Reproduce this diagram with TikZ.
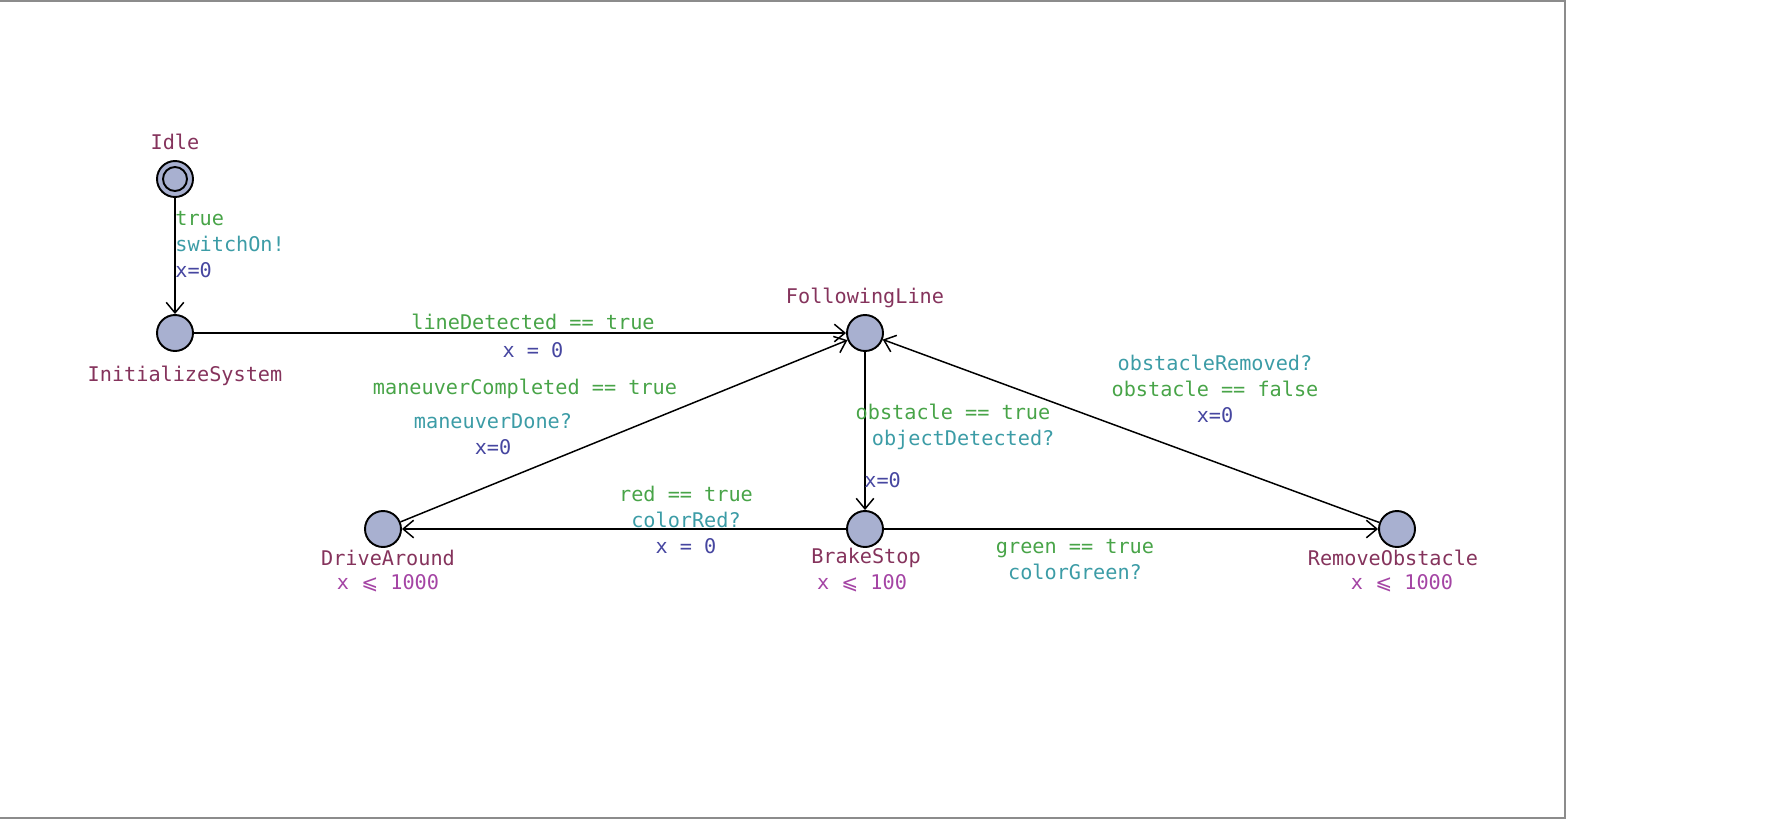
\documentclass[tikz,border=0pt]{standalone}
\usepackage{fontspec}
\setmonofont{DejaVu Sans Mono}
\newfontfamily\symfont{DejaVu Sans}
\definecolor{locname}{RGB}{133, 51, 92}
\definecolor{guard}{RGB}{72, 164, 72}
\definecolor{sync}{RGB}{60, 156, 166}
\definecolor{update}{RGB}{70, 70, 160}
\definecolor{invar}{RGB}{164, 68, 164}
\definecolor{locfill}{RGB}{168, 176, 208}
\definecolor{frame}{RGB}{140, 140, 140}
\usetikzlibrary{arrows.meta, positioning}
\tikzset{
    location/.style={
        circle,
        draw=black,
        fill=locfill,
        line width=1.1pt,
        minimum size=0.72cm,
        inner sep=0pt
    },
    uptext/.style={
        inner sep=0pt,
        align=center,
        font=\ttfamily\fontsize{11.5}{14.8}\selectfont
    },
    edge/.style={-{Straight Barb[length=6pt, width=10pt]}, line width=0.85pt, color=black}
}
\newcommand{\lee}{{\symfont ⩽}}

\begin{document}
\begin{tikzpicture}[x=0.02cm, y=-0.02cm]
      \useasboundingbox (0,0) rectangle (1769,822);
      % window frame
      \draw[frame, line width=1pt] (0,1) -- (1565,1) -- (1565,818) -- (0,818);

      % locations
      \node[location] (idle) at (175,179) {};
      \draw[line width=1.1pt] (idle.center) circle[radius=0.24cm];
      \node[location] (init) at (175,333) {};
      \node[location] (follow) at (865,333) {};
      \node[location] (brake) at (865,529) {};
      \node[location] (drive) at (383,529) {};
      \node[location] (remove) at (1397,529) {};

      % names and invariants
      \node[uptext, text=locname] (nidle) at (175,142) {Idle};
      \node[uptext, text=locname] (ninit) at (185,376) {InitializeSystem};
      \node[uptext, text=locname] (nfollow) at (865,298) {FollowingLine};
      \node[uptext, text=locname] (ndrive) at (388,558) {DriveAround};
      \node[uptext, text=invar] (idrive) at (388,583) {x \lee{} 1000};
      \node[uptext, text=locname] (nbrake) at (866,558) {BrakeStop};
      \node[uptext, text=invar] (ibrake) at (862,583) {x \lee{} 100};
      \node[uptext, text=locname] (nremove) at (1393,558) {RemoveObstacle};
      \node[uptext, text=invar] (iremove) at (1402,583) {x \lee{} 1000};

      % transitions
      \draw[edge] (idle) -- (init);
      \draw[edge] (init) -- (follow);
      \draw[edge] (follow) -- (brake);
      \draw[edge] (brake) -- (drive);
      \draw[edge] (drive) -- (follow);
      \draw[edge] (brake) -- (remove);
      \draw[edge] (remove) -- (follow);

      % transition labels
      \node[uptext, align=left, anchor=west] (l1) at (175,245) {\color{guard}true\\\color{sync}switchOn!\\\color{update}x=0};
      \node[uptext] (l2) at (533,336) {\color{guard}lineDetected == true\\[1pt]\color{update}x = 0};
      \node[uptext] (l3) at (953,427) {\color{guard}obstacle == true\\\color{sync}\hspace{1em}objectDetected?};
      \node[uptext, anchor=west, text=update] (l3b) at (864,480) {x=0};
      \node[uptext] (l4) at (686,520) {\color{guard}red == true\\\color{sync}colorRed?\\\color{update}x = 0};
      \node[uptext, text=guard] (l5) at (525,389) {maneuverCompleted == true};
      \node[uptext] (l5b) at (493,434) {\color{sync}maneuverDone?\\\color{update}x=0};
      \node[uptext] (l6) at (1075,560) {\color{guard}green == true\\\color{sync}colorGreen?};
      \node[uptext] (l7) at (1215,389) {\color{sync}obstacleRemoved?\\\color{guard}obstacle == false\\\color{update}x=0};
\end{tikzpicture}
\end{document}
